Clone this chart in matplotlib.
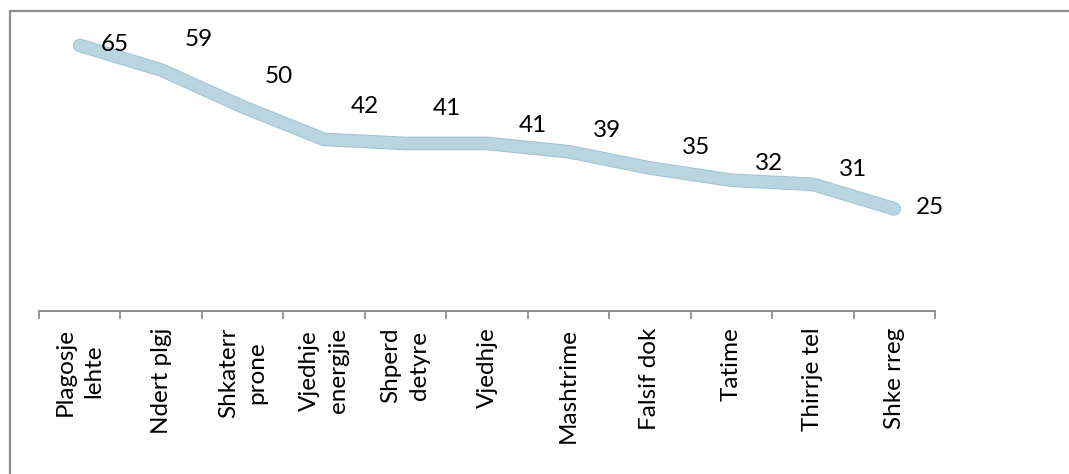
import matplotlib
matplotlib.use("Agg")
import matplotlib.pyplot as plt
from matplotlib.patches import Rectangle
import numpy as np

plt.rcParams['font.family'] = ['Lato', 'DejaVu Sans']

# ─── Data ─────────────────────────────────────────────────────────────────────
categories = ['Plagosje\nlehte', 'Ndert plgj', 'Shkaterr\nprone', 'Vjedhje\nenergjie',
              'Shperd\ndetyre', 'Vjedhje', 'Mashtrime', 'Falsif dok', 'Tatime',
              'Thirrje tel', 'Shke rreg']
values = [65, 59, 50, 42, 41, 41, 39, 35, 32, 31, 25]

# label offsets from each point, in pixels (dx, dy)
label_offsets = [(35, 1), (38, 30), (36, 30), (41, 33), (41, 35), (46, 18),
                 (39, 21), (46, 20), (38, 17), (40, 15), (36, 1)]

W, H = 1069, 474
fig = plt.figure(figsize=(W / 100, H / 100), dpi=100)
ax = fig.add_axes([39 / W, 1 - 311 / H, (935 - 39) / W, (311 - 25) / H])

x = np.arange(len(values))
ax.plot(x, values, color='#9dc3d3', linewidth=9.8, solid_capstyle='round',
        solid_joinstyle='round', zorder=2)
ax.plot(x, values, color='#b9d5e0', linewidth=8.4, solid_capstyle='round',
        solid_joinstyle='round', zorder=3)

for xi, v, (dx, dy) in zip(x, values, label_offsets):
    ax.annotate(str(v), (xi, v), xytext=(dx, dy), textcoords='offset pixels',
                ha='center', va='center', fontsize=17.5, color='black', zorder=4)

ax.set_xlim(-0.5, len(values) - 0.5)
ax.set_ylim(0, 70)

for side in ['top', 'right', 'left']:
    ax.spines[side].set_visible(False)
ax.spines['bottom'].set_color('#868686')
ax.spines['bottom'].set_linewidth(1.3)
ax.set_yticks([])

ax.set_xticks(x)
ax.set_xticklabels(categories, rotation=90, fontsize=17.5, linespacing=1.45,
                   multialignment='center')
ax.set_xticks(np.arange(-0.5, len(values), 1), minor=True)
ax.tick_params(axis='x', which='major', length=0, pad=12)
ax.tick_params(axis='x', which='minor', length=5.8, width=1.2, color='#868686')

# outer chart frame (right/bottom edges lie outside the image)
fig.patches.append(Rectangle((10 / W, -0.1), 1.2, 1 - 11 / H + 0.1,
                             transform=fig.transFigure, fill=False,
                             edgecolor='#8c8c8c', linewidth=1.6))

fig.savefig('out.png', dpi=100)
